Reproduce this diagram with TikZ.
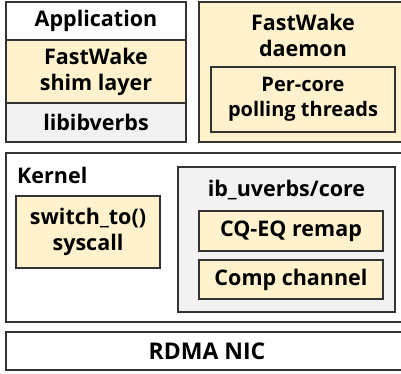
\documentclass[tikz,border=0pt]{standalone}
\usepackage{fontspec}
\setmainfont{Open Sans}
\usetikzlibrary{fit}
\definecolor{beige}{HTML}{FFF2CC}
\definecolor{lgray}{HTML}{F2F2F2}
\definecolor{bordc}{HTML}{333333}
\begin{document}
\begin{tikzpicture}[x=1pt,y=-1pt,
  box/.style={draw=bordc, line width=1.2pt, inner sep=0pt, align=center},
  txt/.style={inner sep=0pt, align=center, font=\bfseries\fontsize{21.5}{26}\selectfont},
  smalltxt/.style={txt, font=\bfseries\fontsize{20}{25}\selectfont},
  bigtxt/.style={txt, font=\bfseries\fontsize{23}{26}\selectfont}]
\useasboundingbox (0,0) rectangle (401,373);
% application stack
\node[box, fill=white, fit={(6,2) (186,40)}] (app) {};
\node[txt] at (app.center) {Application};
\node[box, fill=beige, fit={(6,40) (186,103)}] (shim) {};
\node[txt] at (shim.center) {FastWake\\shim layer};
\node[box, fill=lgray, fit={(6,103) (186,142)}] (libv) {};
\node[txt] at (libv.center) {libibverbs};
% daemon
\node[box, fill=beige, fit={(199,2) (406,142)}] (daemon) {};
\node[txt] (dtitle) at (303,35) {FastWake\\daemon};
\node[box, fill=beige, fit={(211,67) (395,132)}] (poll) {};
\node[smalltxt] at (poll.center) {Per-core\\polling threads};
% kernel
\node[box, fill=white, fit={(6,153) (406,322)}] (kernel) {};
\node[txt, anchor=west] (ktitle) at (17,175) {Kernel};
\node[box, fill=beige, fit={(16,196) (160,268)}] (sw) {};
\node[txt] at (sw.center) {switch\_to()\\syscall};
\node[box, fill=lgray, fit={(178,167) (395,312)}] (ib) {};
\node[txt] (ibtitle) at (286.5,190) {ib\_uverbs/core};
\node[box, fill=beige, fit={(199,211) (383,251)}] (cq) {};
\node[txt] at (cq.center) {CQ-EQ remap};
\node[box, fill=beige, fit={(199,260) (383,299)}] (comp) {};
\node[txt] at (comp.center) {Comp channel};
% NIC
\node[box, fill=white, fit={(6,332) (406,370)}] (nic) {};
\node[bigtxt] at (207,351) {RDMA NIC};
\end{tikzpicture}
\end{document}
